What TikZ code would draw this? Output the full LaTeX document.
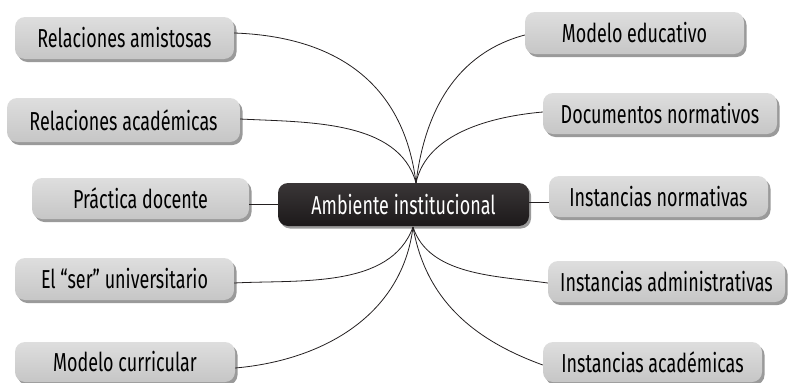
\documentclass[tikz,border=0pt]{standalone}
\usepackage{fontspec}
\setmainfont{Fira Sans}[FakeStretch=0.69]
\usetikzlibrary{shadows}
\definecolor{boxtop}{HTML}{DEDEDE}
\definecolor{boxbot}{HTML}{C6C6C6}
\definecolor{boxshadow}{HTML}{9A9A9A}
\definecolor{darktop}{HTML}{3A3637}
\definecolor{darkbot}{HTML}{1C191A}
\definecolor{linecol}{HTML}{231F20}
\tikzset{
  x=1pt, y=1pt,
  topic/.style={rounded corners=10pt, top color=boxtop, bottom color=boxbot,
    drop shadow={shadow xshift=2.5pt, shadow yshift=-3pt, opacity=1, fill=boxshadow},
    minimum height=42pt, inner sep=0pt, text=black,
    font=\fontsize{26}{30}\selectfont},
  central/.style={rounded corners=10pt, top color=darktop, bottom color=darkbot,
    drop shadow={shadow xshift=2pt, shadow yshift=-2.5pt, opacity=1, fill=boxshadow},
    minimum height=43pt, inner sep=0pt, text=white,
    font=\fontsize{26}{30}\selectfont},
  link/.style={draw=linecol, line width=0.8pt}
}
\begin{document}
\begin{tikzpicture}
\useasboundingbox (0,0) rectangle (804,-383);
% central
\node[central, minimum width=251pt] (c) at (403.5,-204.5) {Ambiente institucional};
\coordinate (ctop) at (416,-183);
\coordinate (cbot) at (413,-227);
% left
\node[topic, minimum width=219pt] (l1) at (124.5,-38) {Relaciones amistosas};
\node[topic, minimum width=233pt, minimum height=44pt] (l2) at (123.5,-120) {Relaciones académicas};
\node[topic, minimum width=217pt, minimum height=41pt] (l3) at (140.5,-198.5) {Práctica docente};
\node[topic, minimum width=219pt] (l4) at (124.5,-279) {El “ser” universitario};
\node[topic, minimum width=220pt, minimum height=40pt] (l5) at (125,-362) {Modelo curricular};
% right
\node[topic, minimum width=219pt] (r1) at (634.5,-33) {Modelo educativo};
\node[topic, minimum width=234pt, minimum height=41pt] (r2) at (660,-113.5) {Documentos normativos};
\node[topic, minimum width=219pt, minimum height=41pt] (r3) at (658.5,-196.5) {Instancias normativas};
\node[topic, minimum width=237pt, minimum height=41pt] (r4) at (666.5,-281.5) {Instancias administrativas};
\node[topic, minimum width=219pt, minimum height=40pt] (r5) at (652.5,-362) {Instancias académicas};
% connectors
\draw[link] (l1.east |- 0,-33) to[out=-2, in=97, looseness=1.1] (ctop);
\draw[link] (l2.east |- 0,-119) to[out=-3, in=105, looseness=0.9] (ctop);
\draw[link] (r1.west |- 0,-35) to[out=195, in=83, looseness=1.0] (ctop);
\draw[link] (r2.west |- 0,-112) to[out=185, in=78, looseness=0.9] (ctop);
\draw[link] (l3.east |- 0,-204) -- (c.west |- 0,-204);
\draw[link] (c.east |- 0,-202) -- (r3.west |- 0,-202);
\draw[link] (l4.east |- 0,-283) to[out=3, in=-110, looseness=0.9] (cbot);
\draw[link] (l5.east |- 0,-368) to[out=5, in=-97, looseness=1.0] (cbot);
\draw[link] (r4.west |- 0,-283) to[out=172, in=-72, looseness=0.9] (cbot);
\draw[link] (r5.west |- 0,-365) to[out=160, in=-80, looseness=1.0] (cbot);
\end{tikzpicture}
\end{document}
